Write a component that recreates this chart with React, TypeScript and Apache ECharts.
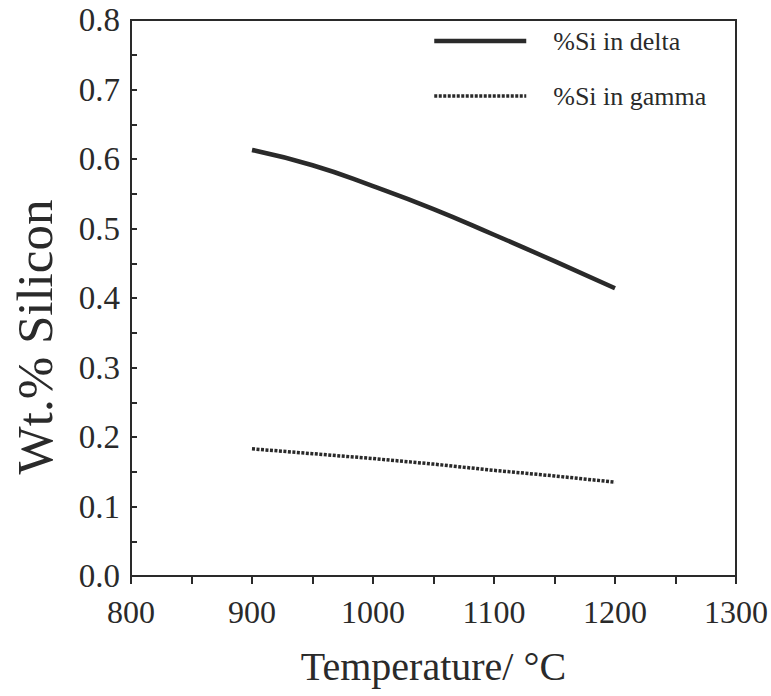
import React, { useEffect, useRef } from "react";
import * as echarts from "echarts";

const temperatures = [900, 950, 1000, 1050, 1100, 1150, 1200];
const siDelta = [0.613, 0.591, 0.561, 0.528, 0.491, 0.453, 0.414];
const siGamma = [0.183, 0.176, 0.169, 0.161, 0.152, 0.144, 0.135];
const seriesNames = ["%Si in delta", "%Si in gamma"];
const xTitle = "Temperature/ °C";
const yTitle = "Wt.% Silicon";

const FONT = "Liberation Serif";
const INK = "#2a2a2a";

export default function App() {
  const ref = useRef<HTMLDivElement>(null);
  useEffect(() => {
    document.body.style.margin = "0";
    const chart = echarts.init(ref.current!, null, { renderer: "svg" });
    chart.setOption({
      animation: false,
      backgroundColor: "#ffffff",
      grid: {
        left: 131,
        top: 20,
        right: 33,
        bottom: 120,
        show: true,
        borderColor: INK,
        borderWidth: 2,
        backgroundColor: "transparent",
      },
      legend: {
        orient: "vertical",
        left: 427,
        top: 23,
        itemWidth: 92,
        itemHeight: 30,
        itemGap: 29,
        itemStyle: { opacity: 0 },
        textStyle: {
          fontFamily: FONT,
          fontSize: 26,
          color: INK,
          padding: [0, 0, 0, 22],
        },
        data: [
          { name: seriesNames[0], lineStyle: { width: 4.5 } },
          { name: seriesNames[1], lineStyle: { width: 3.5 } },
        ],
      },
      xAxis: {
        type: "value",
        min: 800,
        max: 1300,
        interval: 100,
        name: xTitle,
        nameLocation: "middle",
        nameGap: 70,
        nameTextStyle: { fontFamily: FONT, fontSize: 40, color: INK },
        axisLine: { lineStyle: { color: INK, width: 2 } },
        axisTick: { length: 8, lineStyle: { color: INK, width: 2 } },
        minorTick: { show: true, splitNumber: 2, length: 8, lineStyle: { color: INK, width: 2 } },
        axisLabel: {
          fontFamily: FONT,
          fontSize: 32,
          color: INK,
          margin: 20,
          formatter: (v: number) => String(v),
        },
        splitLine: { show: false },
      },
      yAxis: {
        type: "value",
        min: 0,
        max: 0.8,
        interval: 0.1,
        axisLine: { lineStyle: { color: INK, width: 2 } },
        axisTick: { inside: true, length: 6, lineStyle: { color: INK, width: 2 } },
        minorTick: { show: true, splitNumber: 2, length: 6, lineStyle: { color: INK, width: 2 } },
        axisLabel: {
          fontFamily: FONT,
          fontSize: 33,
          color: INK,
          margin: 11,
          formatter: (v: number) => v.toFixed(1),
        },
        splitLine: { show: false },
      },
      graphic: [
        {
          type: "text",
          x: 35,
          y: 337,
          rotation: Math.PI / 2,
          style: {
            text: yTitle,
            fontFamily: FONT,
            fontSize: 51,
            fill: INK,
            align: "center",
            verticalAlign: "middle",
          },
        },
      ],
      series: [
        {
          name: seriesNames[0],
          type: "line",
          data: temperatures.map((t, i) => [t, siDelta[i]]),
          symbol: "none",
          smooth: true,
          lineStyle: { color: INK, width: 4.5, type: "solid" },
          itemStyle: { color: INK },
        },
        {
          name: seriesNames[1],
          type: "line",
          data: temperatures.map((t, i) => [t, siGamma[i]]),
          symbol: "none",
          lineStyle: { color: INK, width: 3.5, type: [3, 1.5] },
          itemStyle: { color: INK },
        },
      ],
    });
    return () => chart.dispose();
  }, []);
  return <div ref={ref} style={{ width: 771, height: 696 }} />;
}
